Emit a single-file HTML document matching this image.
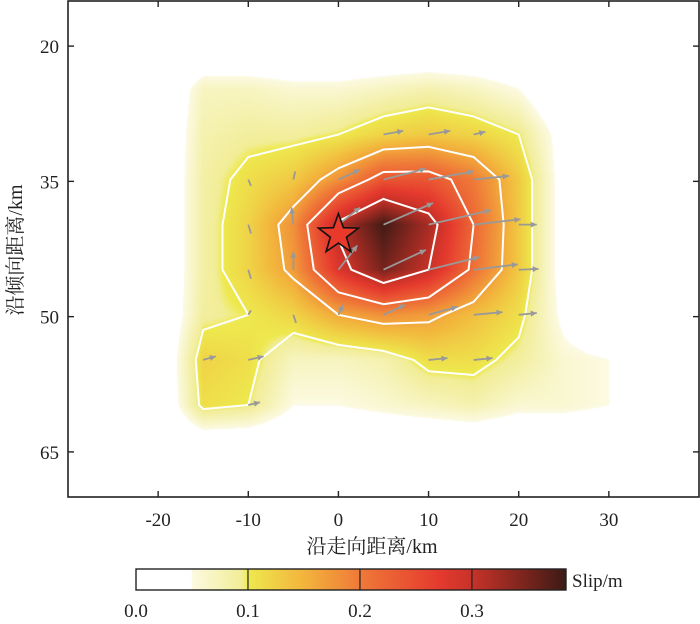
<!DOCTYPE html>
<html><head><meta charset="utf-8"><style>
html,body{margin:0;padding:0;background:#fff;}
#wrap{position:relative;width:700px;height:624px;overflow:hidden;}
svg text{font-family:"Liberation Serif","Noto Serif CJK SC",serif;fill:#222;}
</style></head><body>
<div id="wrap">
<canvas id="heat" width="700" height="624" style="position:absolute;left:0;top:0"></canvas>
<svg id="svg" width="700" height="624" style="position:absolute;left:0;top:0"></svg>
</div>
<script>
// ---- data ----
const gridX = [-20,-15,-10,-5,0,5,10,15,20,25,30,35];
const gridY = [19.8,24.8,29.8,34.8,39.8,44.8,49.8,54.8,59.8,64.8];
const slipRow0 = [0,0,0,0,0,0,0,0,0,0,0,0];
const slipRow1 = [0,.07,.07,.06,.06,.07,.08,.07,.05,0,0,0];
const slipRow2 = [0,.08,.09,.09,.10,.12,.13,.12,.10,.03,0,0];
const slipRow3 = [0,.085,.11,.13,.18,.24,.24,.20,.13,.03,0,0];
const slipRow4 = [0,.085,.12,.18,.31,.38,.32,.22,.13,.03,0,0];
const slipRow5 = [0,.085,.12,.17,.28,.35,.30,.21,.13,.03,0,0];
const slipRow6 = [0,.09,.10,.12,.16,.18,.17,.14,.11,.04,0,0];
const slipRow7 = [0,.12,.11,.07,.07,.08,.11,.11,.09,.06,.05,0];
const slipRow8 = [0,.11,.10,.05,.05,.06,.07,.08,.06,.06,.05,0];
const slipRow9 = [0,0,0,0,0,0,0,0,0,0,0,0];
const contourLevels = [0.1,0.16,0.22,0.3];
const arrowX = [5,10,15, -10,-5,0,5,10,15, -10,-5,0,5,10,15,20, -10,-5,0,5,10,15,20, -10,-5,0,5,10,15,20, -15,-10,10,15, -10];
const arrowY = [29.8,29.8,29.8, 34.8,34.8,34.8,34.8,34.8,34.8, 39.8,39.8,39.8,39.8,39.8,39.8,39.8, 44.8,44.8,44.8,44.8,44.8,44.8,44.8, 49.8,49.8,49.8,49.8,49.8,49.8,49.8, 54.8,54.8,54.8,54.8, 59.8];
const arrowU = [2.2,2.4,1.3, 0.3,0.2,2.4,4.7,5.0,3.9, 0.3,-0.2,2.4,5.5,6.9,5.2,2.0, 0.3,0,2.1,4.7,5.6,4.9,2.2, 0.3,0.3,0.5,2.4,3.2,3.2,2.0, 1.4,1.7,2.1,2.1, 1.3];
const arrowV = [-0.4,-0.4,-0.3, 0.7,-0.9,-1.1,-1.2,-0.9,-0.4, 1.0,-1.9,-1.9,-2.4,-1.6,-0.6,0, 1.0,-2.0,-2.7,-2.2,-1.4,-0.6,-0.1, -0.5,0.9,-1.1,-1.1,-0.9,-0.3,-0.2, -0.4,-0.4,-0.2,-0.2, -0.3];
const hypoX = [0], hypoY = [40.9];
const xTicks = [-20,-10,0,10,20,30];
const yTicks = [20,35,50,65];
const cbTicks = [0.0,0.1,0.2,0.3];
const cbMax = 0.384;
// ---- scales ----
const L=68,R=699,T=1,B=497, X0=-30,X1=40,Y0=15,Y1=70;
const sx=v=>L+(v-X0)/(X1-X0)*(R-L);
const sy=v=>T+(v-Y0)/(Y1-Y0)*(B-T);
const ix=p=>X0+(p-L)/(R-L)*(X1-X0);
const iy=p=>Y0+(p-T)/(B-T)*(Y1-Y0);
const grid=[slipRow0,slipRow1,slipRow2,slipRow3,slipRow4,slipRow5,slipRow6,slipRow7,slipRow8,slipRow9];
const stops=[[0,[255,255,255]],[0.049,[255,255,255]],[0.05,[252,250,226]],[0.095,[241,237,150]],[0.1,[238,233,78]],[0.15,[242,180,60]],[0.2,[239,122,56]],[0.27,[229,58,46]],[0.3,[200,50,40]],[0.384,[61,26,21]]];
function cmap(v){
  if(v<=stops[0][0])return stops[0][1];
  for(let i=1;i<stops.length;i++){if(v<=stops[i][0]){const a=stops[i-1],b=stops[i];const t=(v-a[0])/(b[0]-a[0]);return a[1].map((c,k)=>Math.round(c+(b[1][k]-c)*t));}}
  return stops[stops.length-1][1];
}
function interp(x,y){
  const dx=gridX[1]-gridX[0],dy=gridY[1]-gridY[0];
  let i=Math.floor((x-gridX[0])/dx),j=Math.floor((y-gridY[0])/dy);
  if(i<0||j<0||i>=gridX.length-1||j>=gridY.length-1)return 0;
  const tx=(x-gridX[i])/dx,ty=(y-gridY[j])/dy;
  return grid[j][i]*(1-tx)*(1-ty)+grid[j][i+1]*tx*(1-ty)+grid[j+1][i]*(1-tx)*ty+grid[j+1][i+1]*tx*ty;
}
// heatmap
const ctx=document.getElementById('heat').getContext('2d');
const img=ctx.createImageData(R-L,B-T);
for(let py=0;py<B-T;py++)for(let px=0;px<R-L;px++){
  const v=interp(ix(L+px+0.5),iy(T+py+0.5));const c=cmap(v);const o=(py*(R-L)+px)*4;
  img.data[o]=c[0];img.data[o+1]=c[1];img.data[o+2]=c[2];img.data[o+3]=255;
}
ctx.putImageData(img,L,T);
// svg
const NS='http://www.w3.org/2000/svg';const svg=document.getElementById('svg');
function el(tag,attrs,parent){const e=document.createElementNS(NS,tag);for(const k in attrs)e.setAttribute(k,attrs[k]);(parent||svg).appendChild(e);return e;}
// contours (marching squares)
const cg=el('g',{fill:'none',stroke:'#fff','stroke-width':2});


contourLevels.forEach(lev=>{
  let d='';
  for(let j=0;j<gridY.length-1;j++)for(let i=0;i<gridX.length-1;i++){
    const c=[[gridX[i],gridY[j],grid[j][i]],[gridX[i+1],gridY[j],grid[j][i+1]],[gridX[i+1],gridY[j+1],grid[j+1][i+1]],[gridX[i],gridY[j+1],grid[j+1][i]]];
    const pts=[];
    for(let k=0;k<4;k++){const a=c[k],b=c[(k+1)%4];if((a[2]>=lev)!==(b[2]>=lev)){const t=(lev-a[2])/(b[2]-a[2]);pts.push([a[0]+(b[0]-a[0])*t,a[1]+(b[1]-a[1])*t]);}}
    for(let k=0;k+1<pts.length;k+=2)d+=`M${sx(pts[k][0]).toFixed(1)},${sy(pts[k][1]).toFixed(1)}L${sx(pts[k+1][0]).toFixed(1)},${sy(pts[k+1][1]).toFixed(1)}`;
  }
  const p=el('path',{d:d,'stroke-linecap':'round'},cg);
  
  
});
// arrows
const ag=el('g',{stroke:'#999',fill:'#999','stroke-width':1.8});


for(let k=0;k<arrowX.length;k++){
  const x1=sx(arrowX[k]),y1=sy(arrowY[k]),x2=sx(arrowX[k]+arrowU[k]),y2=sy(arrowY[k]+arrowV[k]);
  const len=Math.hypot(x2-x1,y2-y1);const g=el('g',{},ag);
  
  
  el('line',{x1:x1,y1:y1,x2:x2,y2:y2},g);
  if(len>10){const ux=(x2-x1)/len,uy=(y2-y1)/len,h=6,w=3;
    el('path',{d:`M${x2},${y2}L${x2-ux*h-uy*w},${y2-uy*h+ux*w}L${x2-ux*h+uy*w},${y2-uy*h-ux*w}Z`,stroke:'none'},g);}
}
// star
hypoX.forEach((hx,k)=>{const cx=sx(hx),cy=sy(hypoY[k]);let d='';
  for(let i=0;i<10;i++){const r=i%2?8.5:21,a=-Math.PI/2+i*Math.PI/5;d+=(i?'L':'M')+(cx+r*Math.cos(a)).toFixed(1)+','+(cy+r*Math.sin(a)).toFixed(1);}
  const s=el('path',{d:d+'Z',fill:'#e8392b',stroke:'#111','stroke-width':1.6});
  
  
});
// frame
const fr=el('rect',{x:L,y:T,width:R-L,height:B-T,fill:'none',stroke:'#222','stroke-width':1.6});


xTicks.forEach(v=>{const x=sx(v);
  el('line',{x1:x,y1:B,x2:x,y2:B-6,stroke:'#222','stroke-width':1.4});
  el('line',{x1:x,y1:T,x2:x,y2:T+6,stroke:'#222','stroke-width':1.4});
  const t=el('text',{x:x,y:B+29,'text-anchor':'middle','font-size':19});t.textContent=v;
  
  
});
yTicks.forEach(v=>{const y=sy(v);
  el('line',{x1:L,y1:y,x2:L+6,y2:y,stroke:'#222','stroke-width':1.4});
  el('line',{x1:R,y1:y,x2:R-6,y2:y,stroke:'#222','stroke-width':1.4});
  const t=el('text',{x:L-9,y:y+7,'text-anchor':'end','font-size':19});t.textContent=v;
  
  
});
const xt=el('text',{x:372,y:553,'text-anchor':'middle','font-size':20});xt.textContent='沿走向距离/km';


const yt=el('text',{x:0,y:0,'text-anchor':'middle','font-size':20,transform:'translate(22,250) rotate(-90)'});yt.textContent='沿倾向距离/km';


// colorbar
const CL=136,CR=566,CT=569,CB=590;const cs=v=>CL+v/cbMax*(CR-CL);
const cb=el('g',{});


for(let i=0;i<215;i++){const v=(i+0.5)/215*cbMax;const c=cmap(v);
  el('rect',{x:CL+i*2,y:CT,width:2.3,height:CB-CT,fill:`rgb(${c})`},cb);}
el('rect',{x:CL,y:CT,width:CR-CL,height:CB-CT,fill:'none',stroke:'#222','stroke-width':1.4},cb);
cbTicks.forEach(v=>{const x=cs(v);if(v>0)el('line',{x1:x,y1:CT,x2:x,y2:CB,stroke:'#222','stroke-width':1.2},cb);
  const t=el('text',{x:x,y:617,'text-anchor':'middle','font-size':19},cb);t.textContent=v.toFixed(1);
  
  
});
const cbl=el('text',{x:572,y:587,'font-size':19},cb);cbl.textContent='Slip/m';


</script>
</body></html>
